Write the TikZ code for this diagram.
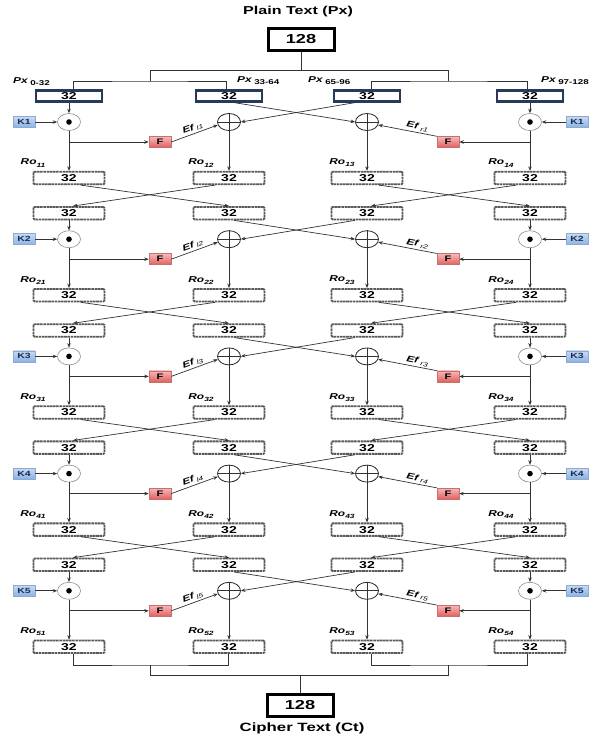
\documentclass[tikz,border=0pt]{standalone}
\usepackage{fontspec}
\setmainfont[FakeStretch=1.4]{Liberation Sans}
\usetikzlibrary{arrows.meta,shapes.geometric,calc}
\definecolor{navy}{RGB}{38,58,92}
\definecolor{ktop}{RGB}{200,218,242}
\definecolor{kbot}{RGB}{140,178,226}
\definecolor{kline}{RGB}{140,170,210}
\definecolor{kdark}{RGB}{25,45,90}
\definecolor{ftop}{RGB}{245,185,185}
\definecolor{fbot}{RGB}{225,95,95}
\definecolor{fline}{RGB}{205,110,110}
\begin{document}
\begin{tikzpicture}[x=1pt,y=-1pt,
  line/.style={draw=black!80, line width=0.7pt},
  arr/.style={line, -{Stealth[length=4.5pt,width=3.5pt]}},
  pxbox/.style={draw=navy, line width=2.2pt, fill=white, minimum width=66pt, minimum height=11pt, inner sep=0pt, font=\bfseries\fontsize{10}{10}\selectfont},
  rbox/.style={draw=black!65, line width=1.8pt, dash pattern=on 2.6pt off 0.6pt, rounded corners=1pt, fill=white, minimum width=71pt, minimum height=12.5pt, inner sep=0pt, font=\bfseries\fontsize{10}{10}\selectfont},
  bigbox/.style={draw=black, line width=3pt, fill=white, minimum width=66pt, minimum height=22pt, inner sep=0pt, font=\bfseries\fontsize{13}{13}\selectfont},
  kbox/.style={draw=kline, line width=0.5pt, top color=ktop, bottom color=kbot, minimum width=22pt, minimum height=11pt, inner sep=0pt, text=kdark, font=\bfseries\fontsize{7.5}{7.5}\selectfont},
  fbox/.style={draw=fline, line width=0.5pt, top color=ftop, bottom color=fbot, minimum width=22pt, minimum height=11pt, inner sep=0pt, font=\bfseries\fontsize{8}{8}\selectfont},
  odot/.style={ellipse, draw=black!45, line width=0.6pt, fill=white, minimum width=23pt, minimum height=17pt, inner sep=0pt},
  oplus/.style={ellipse, draw=black!85, line width=0.8pt, fill=white, minimum width=23pt, minimum height=17pt, inner sep=0pt},
  lab/.style={inner sep=0pt, font=\bfseries\itshape\fontsize{8.5}{8.5}\selectfont},
  title/.style={inner sep=0pt, font=\bfseries\fontsize{11.5}{11.5}\selectfont}
]
\useasboundingbox (0,0) rectangle (598,739);

% ---- top ----
\node[title] (ptl) at (298,12) {Plain Text (Px)};
\node[bigbox] (pt) at (301,39) {128};
\coordinate (jT) at (301,70);
\coordinate (jL) at (150,70);
\coordinate (jR) at (448,70);
\coordinate (jLL) at (150,81);
\coordinate (jRR) at (448,81);

\node[pxbox] (b11) at (69,96) {32};
\node[pxbox] (b12) at (229,96) {32};
\node[pxbox] (b13) at (367,96) {32};
\node[pxbox] (b14) at (530,96) {32};

\draw[line] (pt.south) -- (jT);
\draw[line] (jL) -- (jR);
\draw[line] (jL) -- (jLL);
\draw[line] (jR) -- (jRR);
\draw[line] ([xshift=4pt]b11.north) |- (jLL) -| ([xshift=-3pt]b12.north);
\draw[line] ([xshift=4pt]b13.north) |- (jRR) -| ([xshift=-3pt]b14.north);

\node[lab, anchor=west] (px1) at (13,82) {Px\hspace{2.5pt}\raisebox{-1.8pt}{\upshape\fontsize{7}{7}\selectfont 0-32}};
\node[lab, anchor=west] (px2) at (237,81) {Px\hspace{2.5pt}\raisebox{-1.8pt}{\upshape\fontsize{7}{7}\selectfont 33-64}};
\node[lab, anchor=west] (px3) at (308,81) {Px\hspace{2.5pt}\raisebox{-1.8pt}{\upshape\fontsize{7}{7}\selectfont 65-96}};
\node[lab, anchor=west] (px4) at (541,81) {Px\hspace{2.5pt}\raisebox{-1.8pt}{\upshape\fontsize{7}{7}\selectfont 97-128}};

% ---- crossed boxes of rounds 2..5 ----
\foreach \r in {2,...,5}{
  \pgfmathsetmacro\T{96+117.2*(\r-1)}
  \node[rbox] (b\r1) at (69,\T) {32};
  \node[rbox] (b\r2) at (229,\T) {32};
  \node[rbox] (b\r3) at (367,\T) {32};
  \node[rbox] (b\r4) at (530,\T) {32};
}

% ---- rounds ----
\foreach \r in {1,...,5}{
  \pgfmathsetmacro\T{96+117.2*(\r-1)}
  \pgfmathsetmacro\O{\T+26}
  \pgfmathsetmacro\F{\T+46}
  \pgfmathsetmacro\R{\T+82}
  \pgfmathsetmacro\L{\R-15}
  \node[odot] (odL\r) at (69,\O) {};
  \fill[black] (odL\r.center) circle (2.8pt);
  \node[odot] (odR\r) at (530,\O) {};
  \fill[black] (odR\r.center) circle (2.8pt);
  \node[oplus] (opL\r) at (229,\O) {};
  \draw[line] (opL\r.west) -- (opL\r.east);
  \node[oplus] (opR\r) at (367,\O) {};
  \draw[line] (opR\r.west) -- (opR\r.east);
  \draw[line] (opR\r.north) -- (opR\r.south);
  \draw[line] (opL\r.north) -- (opL\r.south);
  \node[kbox] (kL\r) at (24,\O) {K\r};
  \node[kbox] (kR\r) at (577,\O) {K\r};
  \node[fbox] (fL\r) at (160,\F) {F};
  \node[fbox] (fR\r) at (448,\F) {F};
  \node[rbox] (ro\r1) at (69,\R) {32};
  \node[rbox] (ro\r2) at (229,\R) {32};
  \node[rbox] (ro\r3) at (367,\R) {32};
  \node[rbox] (ro\r4) at (530,\R) {32};
  \node[lab] (rl\r1) at (33,\L) {Ro\raisebox{-2.2pt}{\fontsize{6}{6}\selectfont\r1}};
  \node[lab] (rl\r2) at (201,\L) {Ro\raisebox{-2.2pt}{\fontsize{6}{6}\selectfont\r2}};
  \node[lab] (rl\r3) at (342,\L) {Ro\raisebox{-2.2pt}{\fontsize{6}{6}\selectfont\r3}};
  \node[lab] (rl\r4) at (501,\L) {Ro\raisebox{-2.2pt}{\fontsize{6}{6}\selectfont\r4}};
  \coordinate (brL\r) at (69,\F);
  \coordinate (brR\r) at (530,\F);
  % left half
  \draw[arr] (b\r1.south) -- (odL\r.north);
  \draw[arr] (kL\r.east) -- (odL\r.west);
  \draw[arr] (odL\r.south) -- (ro\r1.north);
  \draw[arr] (brL\r) -- (fL\r.west);
  \draw[arr] (fL\r.east) -- node[lab, sloped, above=1.5pt, pos=.5] {Ef\hspace{2.5pt}\raisebox{-1.5pt}{\mdseries\fontsize{6}{6}\selectfont l\r}} (opL\r.195);
  \draw[arr] (opL\r.south) -- (ro\r2.north);
  \draw[arr] ([xshift=-12pt]b\r3.south) -- (opL\r.east);
  % right half
  \draw[arr] (b\r4.south) -- (odR\r.north);
  \draw[arr] (kR\r.west) -- (odR\r.east);
  \draw[arr] (odR\r.south) -- (ro\r4.north);
  \draw[arr] (brR\r) -- (fR\r.east);
  \draw[arr] (fR\r.north west) -- node[lab, sloped, above=1.5pt, pos=.35] {Ef\hspace{2.5pt}\raisebox{-1.5pt}{\mdseries\fontsize{6}{6}\selectfont r\r}} (opR\r.-15);
  \draw[arr] (opR\r.south) -- (ro\r3.north);
  \draw[arr] ([xshift=5pt]b\r2.south) -- (opR\r.west);
}

% ---- crossings between rounds ----
\foreach \r [evaluate=\r as \n using int(\r+1)] in {1,...,4}{
  \draw[arr] ([xshift=12pt]ro\r1.south) -- (b\n2.north);
  \draw[arr] ([xshift=-14pt]ro\r2.south) -- ([xshift=4pt]b\n1.north);
  \draw[arr] ([xshift=12pt]ro\r3.south) -- (b\n4.north);
  \draw[arr] ([xshift=-14pt]ro\r4.south) -- ([xshift=4pt]b\n3.north);
}

% ---- bottom ----
\node[bigbox] (ct) at (300,705) {128};
\node[inner sep=0pt, font=\bfseries\fontsize{12}{12}\selectfont] (ctl) at (302,728) {Cipher Text (Ct)};
\coordinate (qL) at (150,665);
\coordinate (qR) at (448,665);
\coordinate (qM) at (150,675);
\coordinate (qN) at (448,675);
\coordinate (qC) at (300,675);
\draw[line] ([xshift=4pt]ro51.south) |- (qL) -| ([xshift=-1pt]ro52.south);
\draw[line] ([xshift=4pt]ro53.south) |- (qR) -| ([xshift=-3pt]ro54.south);
\draw[line] (qL) -- (qM) -- (qN) -- (qR);
\draw[line] (qC) -- (ct.north);
\end{tikzpicture}
\end{document}
